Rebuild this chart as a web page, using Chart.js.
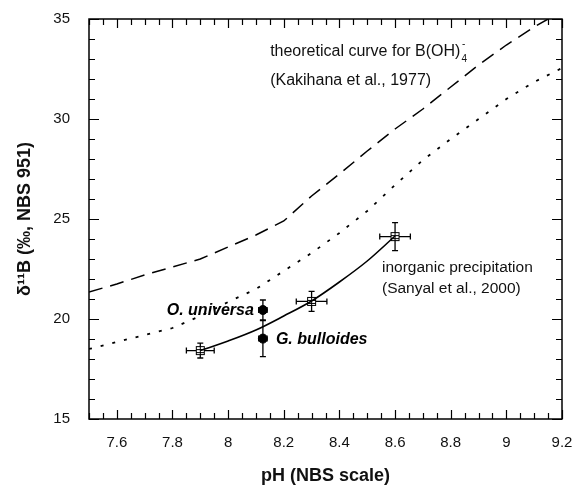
<!DOCTYPE html>
<html>
<head>
<meta charset="utf-8">
<script src="https://cdn.jsdelivr.net/npm/chart.js@4/dist/chart.umd.min.js"></script>
<style>
  html, body { margin: 0; padding: 0; background: #fff; }
  #wrap { width: 575px; height: 488px; }
</style>
</head>
<body>
<div id="wrap"><canvas id="chart" width="575" height="488"></canvas></div>
<script>
// theoretical curve for B(OH)4- (Kakihana et al., 1977), dashed
const kakihanaPH = [7.5, 7.6, 7.7, 7.8, 7.9, 8.0, 8.1, 8.2, 8.3, 8.4, 8.5, 8.6, 8.7, 8.8, 8.9, 9.0, 9.1, 9.15];
const kakihanaD11B = [21.35, 21.75, 22.2, 22.6, 23.0, 23.6, 24.2, 24.9, 26.15, 27.25, 28.4, 29.5, 30.5, 31.6, 32.7, 33.7, 34.6, 35.0];

// dotted curve
const dottedPH = [7.5, 7.6, 7.7, 7.8, 7.9, 8.0, 8.1, 8.2, 8.3, 8.4, 8.5, 8.6, 8.7, 8.8, 8.9, 9.0, 9.1, 9.2];
const dottedD11B = [18.5, 18.85, 19.2, 19.55, 20.15, 20.85, 21.5, 22.4, 23.3, 24.3, 25.4, 26.7, 27.95, 29.0, 30.0, 31.0, 31.85, 32.55];

// inorganic precipitation fit (Sanyal et al., 2000), solid
const sanyalFitPH = [7.9, 8.0, 8.1, 8.2, 8.3, 8.4, 8.5, 8.6];
const sanyalFitD11B = [18.42, 18.9, 19.45, 20.15, 20.9, 21.85, 22.9, 24.15];

// inorganic precipitation measurements
const inorgPH = [7.9, 8.3, 8.6];
const inorgD11B = [18.42, 20.88, 24.12];
const inorgPHErr = [0.05, 0.055, 0.055];
const inorgD11BErr = [0.37, 0.5, 0.7];

// foraminifera
const foramNames = ["O. universa", "G. bulloides"];
const foramPH = [8.125, 8.125];
const foramD11B = [20.45, 19.02];
const foramPHErr = [0.015, 0.015];
const foramD11BErr = [0.5, 0.9];

// axis ticks
const xTickLabels = [7.6, 7.8, 8, 8.2, 8.4, 8.6, 8.8, 9, 9.2];
const yTickLabels = [15, 20, 25, 30, 35];

const FONT = '"Liberation Sans", Arial, Helvetica, sans-serif';

function pairs(xs, ys) {
  return xs.map((x, i) => ({ x: x, y: ys[i] }));
}

// little hatched box used for the inorganic points
function boxSymbol() {
  const c = document.createElement("canvas");
  c.width = 11; c.height = 11;
  const g = c.getContext("2d");
  g.fillStyle = "#fff";
  g.fillRect(1, 1, 9, 9);
  g.strokeStyle = "#000";
  g.lineWidth = 1;
  g.strokeRect(1.5, 1.5, 8, 8);
  g.beginPath();
  g.moveTo(1.5, 4.5); g.lineTo(9.5, 4.5);
  g.moveTo(1.5, 7.5); g.lineTo(9.5, 7.5);
  g.moveTo(5.5, 1.5); g.lineTo(5.5, 9.5);
  g.stroke();
  return c;
}

const errorBars = {
  id: "errorBars",
  beforeDatasetsDraw(chart) {
    const ctx = chart.ctx;
    const xs = chart.scales.x, ys = chart.scales.y;
    ctx.save();
    ctx.strokeStyle = "#000";
    ctx.lineWidth = 1.3;
    chart.data.datasets.forEach((ds) => {
      if (!ds.errX) return;
      ds.data.forEach((p, i) => {
        const px = xs.getPixelForValue(p.x), py = ys.getPixelForValue(p.y);
        const x0 = xs.getPixelForValue(p.x - ds.errX[i]);
        const x1 = xs.getPixelForValue(p.x + ds.errX[i]);
        const y0 = ys.getPixelForValue(p.y - ds.errY[i]);
        const y1 = ys.getPixelForValue(p.y + ds.errY[i]);
        ctx.beginPath();
        ctx.moveTo(x0, py); ctx.lineTo(x1, py);
        ctx.moveTo(x0, py - 3); ctx.lineTo(x0, py + 3);
        ctx.moveTo(x1, py - 3); ctx.lineTo(x1, py + 3);
        ctx.moveTo(px, y0); ctx.lineTo(px, y1);
        ctx.moveTo(px - 3, y0); ctx.lineTo(px + 3, y0);
        ctx.moveTo(px - 3, y1); ctx.lineTo(px + 3, y1);
        ctx.stroke();
      });
    });
    ctx.restore();
  }
};

const frameTicks = {
  id: "frameTicks",
  afterDraw(chart) {
    const ctx = chart.ctx;
    const a = chart.chartArea;
    const xs = chart.scales.x, ys = chart.scales.y;
    ctx.save();
    ctx.strokeStyle = "#000";
    ctx.lineWidth = 1.5;
    ctx.strokeRect(a.left, a.top, a.right - a.left, a.bottom - a.top);
    ctx.lineWidth = 1.2;
    ctx.beginPath();
    xs.ticks.forEach((t) => {
      const major = Math.round(t.value * 100) % 20 === 0;
      const len = major ? 9 : 6;
      const px = Math.round(xs.getPixelForValue(t.value)) + 0.5;
      ctx.moveTo(px, a.bottom); ctx.lineTo(px, a.bottom - len);
      ctx.moveTo(px, a.top); ctx.lineTo(px, a.top + len);
    });
    ys.ticks.forEach((t) => {
      const major = Math.round(t.value) % 5 === 0;
      const len = major ? 10 : 6;
      const py = Math.round(ys.getPixelForValue(t.value)) + 0.5;
      ctx.moveTo(a.left, py); ctx.lineTo(a.left + len, py);
      ctx.moveTo(a.right, py); ctx.lineTo(a.right - len, py);
    });
    ctx.stroke();
    ctx.restore();
  }
};

const notes = {
  id: "notes",
  afterDatasetsDraw(chart) {
    const ctx = chart.ctx;
    const xs = chart.scales.x, ys = chart.scales.y;
    const X = (v) => xs.getPixelForValue(v);
    const Y = (v) => ys.getPixelForValue(v);
    ctx.save();
    ctx.fillStyle = "#111";
    ctx.textBaseline = "middle";
    ctx.textAlign = "left";
    ctx.font = "16px " + FONT;
    const t1 = "theoretical curve for B(OH)";
    const x1 = X(8.151), y1 = Y(33.35);
    ctx.fillText(t1, x1, y1);
    const w1 = ctx.measureText(t1).width;
    ctx.font = "10px " + FONT;
    ctx.fillText("4", x1 + w1 + 1, y1 + 7);
    ctx.fillText("-", x1 + w1 + 1.5, y1 - 8);
    ctx.font = "16px " + FONT;
    ctx.fillText("(Kakihana et al., 1977)", x1, Y(31.9));
    ctx.font = "15.5px " + FONT;
    ctx.fillText("inorganic precipitation", X(8.553), Y(22.58));
    ctx.fillText("(Sanyal et al., 2000)", X(8.553), Y(21.5));

    ctx.font = "italic bold 16px " + FONT;
    ctx.fillStyle = "#000";
    ctx.textAlign = "right";
    ctx.fillText(foramNames[0], X(foramPH[0]) - 9, Y(foramD11B[0]) + 1);
    ctx.textAlign = "left";
    ctx.fillText(foramNames[1], X(foramPH[1]) + 13, Y(foramD11B[1]) + 1);
    ctx.restore();
  }
};

const ctx = document.getElementById("chart").getContext("2d");
new Chart(ctx, {
  type: "scatter",
  data: {
    datasets: [
      {
        data: pairs(kakihanaPH, kakihanaD11B),
        showLine: true,
        borderColor: "#000",
        borderWidth: 1.5,
        borderDash: [14, 8],
        pointRadius: 0,
        tension: 0,
      },
      {
        data: pairs(dottedPH, dottedD11B),
        showLine: true,
        borderColor: "#000",
        borderWidth: 1.8,
        borderDash: [3, 9],
        pointRadius: 0,
        tension: 0,
      },
      {
        data: pairs(sanyalFitPH, sanyalFitD11B),
        showLine: true,
        borderColor: "#000",
        borderWidth: 1.6,
        pointRadius: 0,
        cubicInterpolationMode: "monotone",
      },
      {
        data: pairs(inorgPH, inorgD11B),
        errX: inorgPHErr,
        errY: inorgD11BErr,
        pointStyle: boxSymbol(),
        pointRadius: 5,
      },
      {
        data: pairs(foramPH, foramD11B),
        errX: foramPHErr,
        errY: foramD11BErr,
        pointStyle: "circle",
        pointRadius: 4.5,
        backgroundColor: "#000",
        borderColor: "#000",
      },
    ],
  },
  options: {
    responsive: false,
    animation: false,
    layout: { padding: { top: 19, right: 13, left: 0, bottom: 0 } },
    plugins: {
      legend: { display: false },
      tooltip: { enabled: false },
    },
    scales: {
      x: {
        type: "linear",
        min: 7.5,
        max: 9.2,
        grid: { display: false, drawTicks: false },
        border: { display: false },
        afterFit: (s) => {
          s.height = 69;
          s.paddingLeft = 0;
          s.paddingRight = 0;
        },
        ticks: {
          stepSize: 0.05,
          autoSkip: false,
          maxRotation: 0,
          padding: 15,
          color: "#111",
          font: { family: FONT, size: 15 },
          callback: (v) => {
            const r = Math.round(v * 10) / 10;
            return xTickLabels.some((t) => Math.abs(t - v) < 1e-6) ? String(r) : "";
          },
        },
        title: {
          display: true,
          text: "pH (NBS scale)",
          color: "#111",
          font: { family: FONT, size: 18, weight: "bold" },
          padding: { top: 0, bottom: 1 },
        },
      },
      y: {
        type: "linear",
        min: 15,
        max: 35,
        grid: { display: false, drawTicks: false },
        border: { display: false },
        afterFit: (s) => {
          s.width = 89;
          s.paddingTop = 0;
          s.paddingBottom = 0;
        },
        ticks: {
          stepSize: 1,
          autoSkip: false,
          padding: 19,
          color: "#111",
          font: { family: FONT, size: 15 },
          callback: (v) => (yTickLabels.includes(v) ? String(v) : ""),
        },
        title: {
          display: true,
          text: "δ¹¹B (‰, NBS 951)",
          color: "#111",
          font: { family: FONT, size: 18, weight: "bold" },
          padding: { top: 14, bottom: 0 },
        },
      },
    },
  },
  plugins: [errorBars, frameTicks, notes],
});
</script>
</body>
</html>
